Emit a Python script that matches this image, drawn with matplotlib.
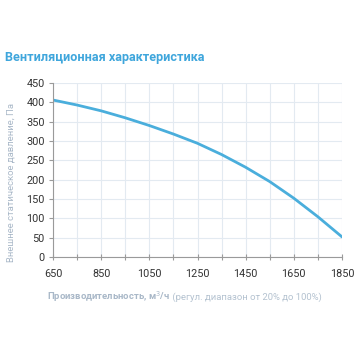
import matplotlib
matplotlib.use("Agg")
import matplotlib.pyplot as plt
import numpy as np

flow = [650, 750, 850, 950, 1050, 1150, 1250, 1350, 1450, 1550, 1650, 1750, 1850]
pressure = [406, 393, 378, 360, 340, 318, 294, 265, 232, 195, 152, 104, 52]
xticks = [650, 850, 1050, 1250, 1450, 1650, 1850]
yticks = [0, 50, 100, 150, 200, 250, 300, 350, 400, 450]

title = "Вентиляционная характеристика"
ylabel = "Внешнее статическое давление, Па"
xlabel_bold = "Производительность, м$^3$/ч"
xlabel_rest = " (регул. диапазон от 20% до 100%)"

plt.rcParams['font.family'] = ['Roboto', 'DejaVu Sans']

fig = plt.figure(figsize=(3.56, 3.56), dpi=100)
ax = fig.add_axes([53/356, 1-257/356, (342-53)/356, (257-83)/356])

xs = np.array(flow, dtype=float)
ys = np.array(pressure, dtype=float)
ax.plot(xs, ys, color='#4aaedc', lw=2.0, solid_capstyle='round')

ax.set_xlim(650, 1850)
ax.set_ylim(0, 450)
ax.set_xticks(xticks)
ax.set_xticks(flow, minor=True)
ax.set_yticks(yticks)
ax.grid(True, which='both', axis='x', color='#e3eaf1', lw=0.8)
ax.grid(True, which='major', axis='y', color='#e3eaf1', lw=0.8)
ax.set_axisbelow(True)
for s in ['top', 'right']:
    ax.spines[s].set_visible(False)
for s in ['left', 'bottom']:
    ax.spines[s].set_color('#9a9a9a')
    ax.spines[s].set_linewidth(0.8)
ax.tick_params(axis='both', which='both', colors='#9a9a9a', labelcolor='#333333',
               labelsize=7.8, length=3, width=0.8)
ax.tick_params(axis='x', which='both', direction='inout', length=5, pad=6)
ax.tick_params(axis='y', pad=3)

fig.text(5/356, 1-58/356, title, fontsize=9.1, fontweight='bold', color='#3fa6dc',
         va='center', ha='left')
fig.text(11/356, 1-182/356, ylabel, fontsize=6.8, color='#a9b8c8', rotation=90,
         va='center', ha='center')
t1 = fig.text(47/356, 1-297/356, xlabel_bold, fontsize=6.8, fontweight='bold',
              color='#a9b8c8', va='center', ha='left')
fig.canvas.draw()
bb = t1.get_window_extent()
fig.text(bb.x1/356, 1-297/356, xlabel_rest, fontsize=6.8, color='#b4c2d0',
         va='center', ha='left')

fig.savefig('out.png', dpi=100, facecolor='white')
